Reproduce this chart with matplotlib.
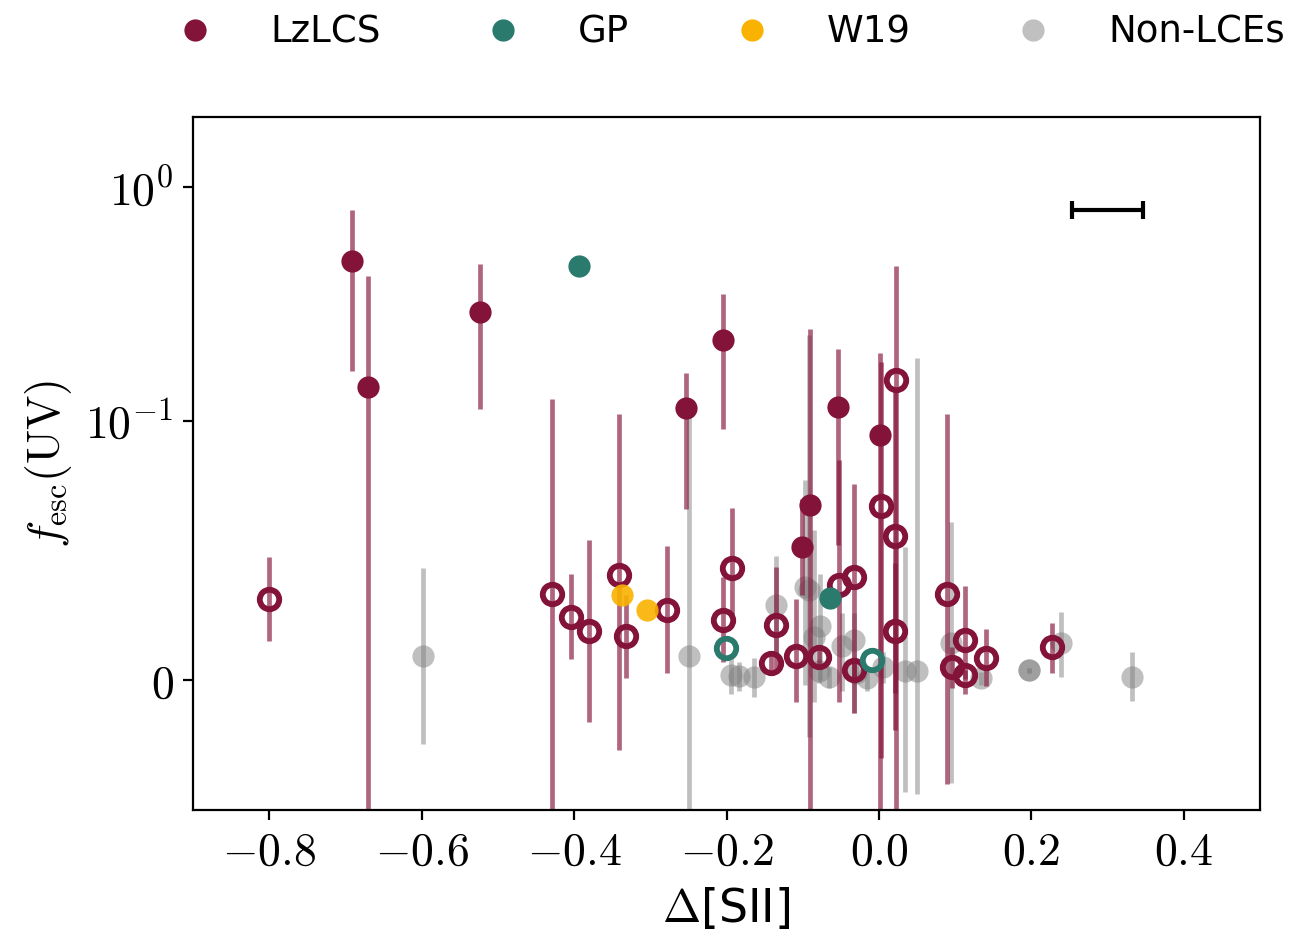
import numpy as np
import matplotlib
matplotlib.use("Agg")
import matplotlib.pyplot as plt
from matplotlib.lines import Line2D
from matplotlib.ticker import FixedLocator, FixedFormatter, FuncFormatter, NullLocator

plt.rcParams['mathtext.fontset'] = 'cm'
plt.rcParams['font.family'] = 'DejaVu Sans'

maroon = '#84133a'
teal = '#2b7a6e'
orange = '#f9b200'

# LzLCS, detections (filled)
lz_det_x = [-0.692, -0.670, -0.523, -0.253, -0.205, -0.054, 0.001, -0.090, -0.101]
lz_det_y = [0.482, 0.140, 0.291, 0.114, 0.221, 0.115, 0.0947, 0.0676, 0.0514]
lz_det_lo = [0.164, -0.08, 0.112, 0.066, 0.097, 0.052, -0.08, -0.08, 0.033]
lz_det_hi = [0.798, 0.416, 0.469, 0.161, 0.348, 0.204, 0.196, 0.248, 0.070]

# LzLCS, open symbols
lz_open_x = [-0.800, -0.429, -0.404, -0.380, -0.341, -0.332, -0.278, -0.193, -0.205,
             -0.135, -0.142, -0.109, -0.079, -0.0525, -0.033, -0.033, 0.021, 0.021,
             0.022, 0.003, 0.089, 0.113, 0.096, 0.113, 0.140, 0.227]
lz_open_y = [0.0313, 0.0332, 0.0243, 0.0189, 0.0406, 0.0170, 0.0270, 0.0433, 0.0232,
             0.0212, 0.0066, 0.0093, 0.0089, 0.0367, 0.0398, 0.0039, 0.0556, 0.0189,
             0.150, 0.0672, 0.0332, 0.0155, 0.0050, 0.0019, 0.0085, 0.0128]
lz_open_lo = [0.0151, -0.08, 0.0081, -0.0162, -0.027, 0.0008, 0.0027, 0.0243, 0.0070,
              0.0027, 0.0030, -0.0085, 0.0045, -0.0085, -0.0127, 0.0010, -0.0193, -0.0050,
              -0.08, -0.030, -0.0398, -0.0054, -0.0031, 0.0005, -0.0023, 0.0027]
lz_open_hi = [0.0475, 0.1245, 0.041, 0.054, 0.107, 0.0328, 0.0518, 0.0664, 0.0398,
              0.0436, 0.0100, 0.0313, 0.0135, 0.085, 0.0757, 0.0070, 0.1334, 0.0452,
              0.459, 0.178, 0.107, 0.0363, 0.0127, 0.0040, 0.0197, 0.022]

# Green peas
gp_x = [-0.393, -0.064, -0.2007, -0.009]
gp_y = [0.459, 0.0317, 0.0124, 0.0077]
gp_filled = [True, True, False, False]

# W19
w19_x = [-0.337, -0.304]
w19_y = [0.0328, 0.027]

# Non-LCEs
non_x = [-0.598, -0.249, -0.194, -0.184, -0.164, -0.135, -0.097, -0.092, -0.077,
         -0.085, -0.0485, -0.033, -0.066, -0.079, -0.016, 0.005, 0.034, 0.050,
         0.094, 0.134, 0.197, 0.197, 0.239, 0.332, -0.030]
non_y = [0.0093, 0.0093, 0.0019, 0.0015, 0.0012, 0.029, 0.0359, 0.0348, 0.0209,
         0.0166, 0.0131, 0.0155, 0.0012, 0.0035, 0.0008, 0.0050, 0.0035, 0.0035,
         0.0143, 0.0008, 0.0039, 0.0039, 0.0143, 0.0012, 0.0027]
non_lo = [-0.0247, -0.08, -0.0054, -0.004, -0.0066, 0.010, -0.002, -0.022, 0.0,
          -0.0085, -0.004, -0.0127, -0.003, -0.001, -0.004, -0.001, -0.043, -0.044,
          -0.0397, -0.002, 0.0029, 0.0029, 0.0012, -0.0081, -0.001]
non_hi = [0.0433, 0.1117, 0.0089, 0.007, 0.0085, 0.048, 0.077, 0.234, 0.041,
          0.058, 0.026, 0.026, 0.005, 0.008, 0.005, 0.011, 0.0514, 0.185,
          0.0609, 0.003, 0.0049, 0.0049, 0.0263, 0.0108, 0.006]

# typical x uncertainty
ref_x, ref_y, ref_xerr = 0.30, 0.80, 0.047


def asym(y, lo, hi):
    y = np.array(y)
    return [y - np.array(lo), np.array(hi) - y]


fig = plt.figure(figsize=(6.465, 4.655), dpi=200)
ax = fig.add_axes([0.1493, 0.130, 0.8252, 0.7443])

ax.errorbar(non_x, non_y, yerr=asym(non_y, non_lo, non_hi), fmt='o', color='gray',
            alpha=0.5, ms=8, mew=0, elinewidth=1.7, zorder=1)

ax.errorbar(lz_det_x, lz_det_y, yerr=asym(lz_det_y, lz_det_lo, lz_det_hi), fmt='none',
            ecolor=maroon, alpha=0.65, elinewidth=1.7, zorder=2)
ax.errorbar(lz_open_x, lz_open_y, yerr=asym(lz_open_y, lz_open_lo, lz_open_hi), fmt='none',
            ecolor=maroon, alpha=0.65, elinewidth=1.7, zorder=2)

ax.plot(lz_det_x, lz_det_y, 'o', color=maroon, ms=8, mew=0, zorder=3)
ax.plot(lz_open_x, lz_open_y, 'o', mfc='none', mec=maroon, ms=7, mew=2.1, zorder=3)

for x, y, f in zip(gp_x, gp_y, gp_filled):
    if f:
        ax.plot(x, y, 'o', color=teal, ms=8, mew=0, zorder=3)
    else:
        ax.plot(x, y, 'o', mfc='none', mec=teal, ms=7, mew=2.1, zorder=3)

ax.plot(w19_x, w19_y, 'o', color=orange, alpha=0.9, ms=8, mew=0, zorder=3)

ax.errorbar(ref_x, ref_y, xerr=ref_xerr, fmt='none', ecolor='k', elinewidth=1.5,
            capsize=3.3, capthick=1.5, zorder=4)

ax.set_yscale('symlog', linthresh=0.1, linscale=1)
ax.set_ylim(-0.05, 2)
ax.set_xlim(-0.9, 0.5)

ax.yaxis.set_major_locator(FixedLocator([0, 0.1, 1]))
ax.yaxis.set_major_formatter(FixedFormatter([r'$0$', r'$10^{-1}$', r'$10^{0}$']))
ax.yaxis.set_minor_locator(NullLocator())
ax.set_xticks([-0.8, -0.6, -0.4, -0.2, 0.0, 0.2, 0.4])
ax.xaxis.set_major_formatter(FuncFormatter(lambda v, p: r'$%.1f$' % v))
ax.tick_params(labelsize=16.5)

ax.set_xlabel(r'$\Delta$[SII]', fontsize=16.5)
ax.set_ylabel(r'$f_{\rm esc}(\rm UV)$', fontsize=16.5)

handles = [Line2D([], [], marker='o', ls='', color=c, ms=8, mew=0)
           for c in [maroon, teal, orange, '#c0c0c0']]
fig.legend(handles, ['LzLCS', 'GP', 'W19', 'Non-LCEs'], loc='center left',
           bbox_to_anchor=(0.1105, 0.9656), ncol=4, frameon=False, fontsize=13.37,
           handletextpad=1.02, columnspacing=2.30, borderaxespad=0)

fig.savefig('out.png', dpi=200)
